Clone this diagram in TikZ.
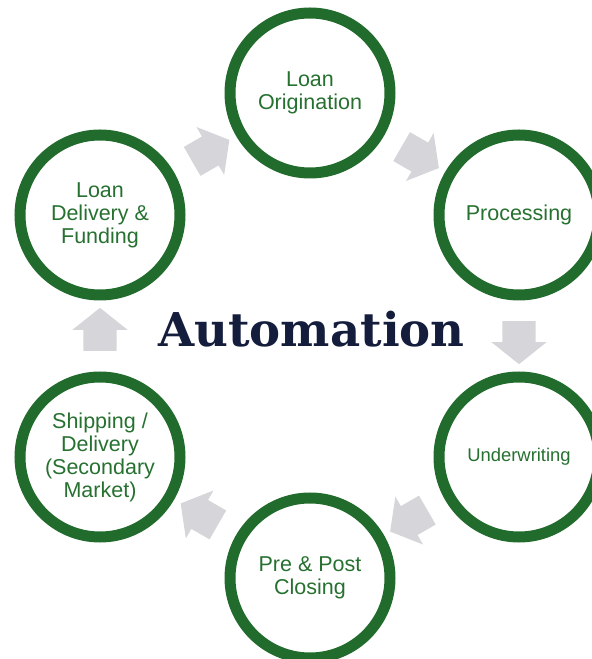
\documentclass[tikz,border=0pt]{standalone}
\usepackage{fontspec}
\setmainfont{Liberation Sans}
\newfontfamily\titlefont{DejaVu Serif}
\usetikzlibrary{shapes.arrows,calc}

\definecolor{ringgreen}{RGB}{33,107,45}
\definecolor{labelgreen}{RGB}{38,112,48}
\definecolor{flowgray}{RGB}{214,213,218}
\definecolor{titlenavy}{RGB}{21,29,61}

\begin{document}
\begin{tikzpicture}[
        x=1pt,y=1pt,
        stage/.style={circle,draw=ringgreen,line width=11pt,minimum size=160pt,
            inner sep=0pt,align=center,text=labelgreen,
            font=\fontsize{21.5}{23}\selectfont},
        flow/.style={single arrow,fill=flowgray,draw=none,
            inner xsep=0pt,inner ysep=16.5pt,
            minimum height=43pt,
            single arrow head extend=11pt,single arrow tip angle=103},
        ]
    \clip (0,0) rectangle (592,659);

    % the six stages, clockwise from the top
    \node [stage] (orig)  at (310,566) {Loan\\Origination};
    \node [stage] (proc)  at (519,444) {Processing};
    \node [stage,font=\fontsize{18.4}{22}\selectfont] (under) at (519,202) {Underwriting};
    \node [stage] (close) at (310,81)  {Pre \& Post\\Closing};
    \node [stage] (ship)  at (100,202) {Shipping /\\Delivery\\(Secondary\\Market)};
    \node [stage] (deliv) at (100,444) {Loan\\Delivery \&\\Funding};

    % block arrows half way between neighbours
    \node [flow,rotate=-30]  (f1) at ($(orig)!0.5!(proc)$)   {};
    \node [flow,rotate=-90]  (f2) at ($(proc)!0.5!(under)$)  {};
    \node [flow,rotate=-150] (f3) at ($(under)!0.5!(close)$) {};
    \node [flow,rotate=150]  (f4) at ($(close)!0.5!(ship)$)  {};
    \node [flow,rotate=90]   (f5) at ($(ship)!0.5!(deliv)$)  {};
    \node [flow,rotate=30]   (f6) at ($(deliv)!0.5!(orig)$)  {};

    \node [anchor=base,text=titlenavy,
        font=\titlefont\bfseries\fontsize{46.6}{50}\selectfont] (title)
        at (311.5,312) {Automation};
\end{tikzpicture}
\end{document}
